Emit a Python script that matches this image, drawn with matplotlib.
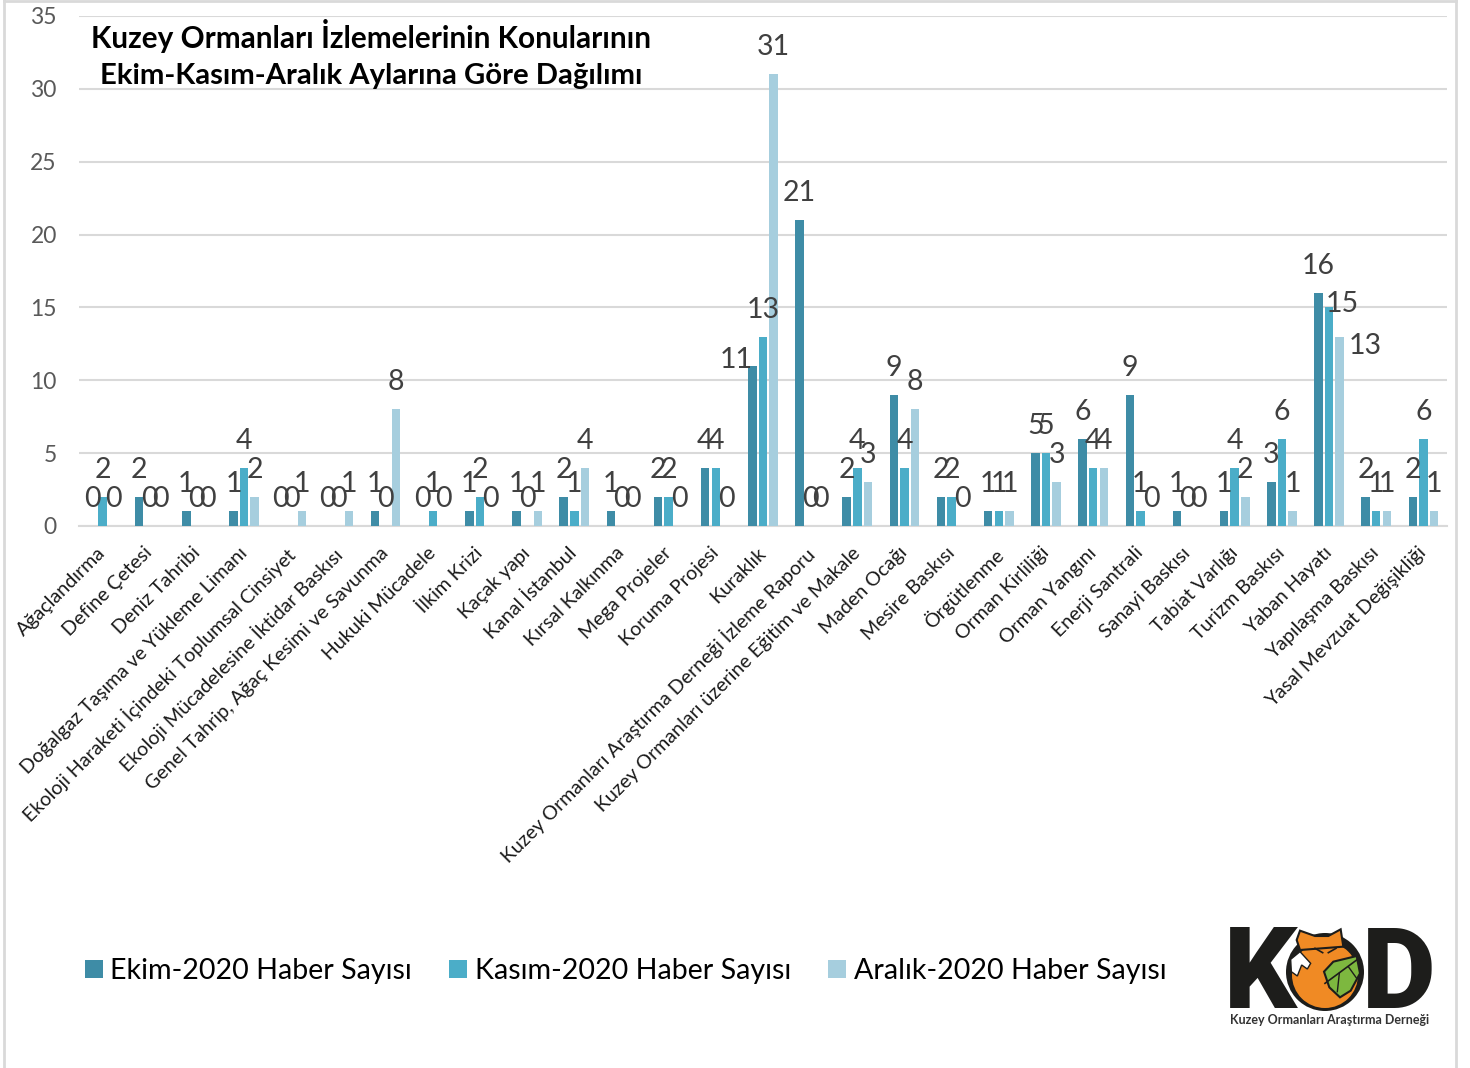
import matplotlib
matplotlib.use("Agg")
import matplotlib.pyplot as plt
import numpy as np
from matplotlib.patches import Polygon, Circle
from matplotlib.lines import Line2D
from matplotlib.transforms import ScaledTranslation

plt.rcParams['font.family'] = ['Lato', 'DejaVu Sans']

categories = ["Ağaçlandırma", "Define Çetesi", "Deniz Tahribi", "Doğalgaz Taşıma ve Yükleme Limanı",
              "Ekoloji Haraketi İçindeki Toplumsal Cinsiyet", "Ekoloji Mücadelesine İktidar Baskısı",
              "Genel Tahrip, Ağaç Kesimi ve Savunma", "Hukuki Mücadele", "İlkim Krizi", "Kaçak yapı",
              "Kanal İstanbul", "Kırsal Kalkınma", "Mega Projeler", "Koruma Projesi", "Kuraklık",
              "Kuzey Ormanları Araştırma Derneği İzleme Raporu", "Kuzey Ormanları üzerine Eğitim ve Makale",
              "Maden Ocağı", "Mesire Baskısı", "Örgütlenme", "Orman Kirliliği", "Orman Yangını",
              "Enerji Santrali", "Sanayi Baskısı", "Tabiat Varlığı", "Turizm Baskısı", "Yaban Hayatı",
              "Yapılaşma Baskısı", "Yasal Mevzuat Değişikliği"]
ekim =   [0, 2, 1, 1, 0, 0, 1, 0, 1, 1, 2, 1, 2, 4, 11, 21, 2, 9, 2, 1, 5, 6, 9, 1, 1, 3, 16, 2, 2]
kasim =  [2, 0, 0, 4, 0, 0, 0, 1, 2, 0, 1, 0, 2, 4, 13, 0, 4, 4, 2, 1, 5, 4, 1, 0, 4, 6, 15, 1, 6]
aralik = [0, 0, 0, 2, 1, 1, 8, 0, 0, 1, 4, 0, 0, 0, 31, 0, 3, 8, 0, 1, 3, 4, 0, 0, 2, 1, 13, 1, 1]
series_names = ["Ekim-2020 Haber Sayısı", "Kasım-2020 Haber Sayısı", "Aralık-2020 Haber Sayısı"]
colors = ["#3E8CA6", "#4BADC8", "#A6CEDE"]
title_lines = ["Kuzey Ormanları İzlemelerinin Konularının", "Ekim-Kasım-Aralık Aylarına Göre Dağılımı"]

W, H = 1470, 1068
PT = 0.72  # points per pixel at dpi 100
fig = plt.figure(figsize=(W / 100, H / 100), dpi=100)
ax = fig.add_axes([79 / W, 1 - 526 / H, (1447 - 79) / W, (526 - 16) / H])

# labels the reference moved by hand: (series, category) -> pixel offset from the bar top
moved_labels = {(0, 14): (-16, 6), (1, 26): (13, 3), (2, 26): (26, -9)}

x = np.arange(len(categories))
width, step = 0.18, 0.225
bar_sets = []
for i, vals in enumerate([ekim, kasim, aralik]):
    bars = ax.bar(x + (i - 1) * step, vals, width, color=colors[i], label=series_names[i], zorder=3)
    bar_sets.append(bars)
    for j, (xi, v) in enumerate(zip(x + (i - 1) * step, vals)):
        dx, dy = moved_labels.get((i, j), (0, 27))
        ax.annotate(str(v), (xi, v), xytext=(dx * PT, dy * PT), textcoords='offset points', ha='center',
                    va='center', fontsize=20.5, color='#404040', zorder=5)

ax.set_xlim(-0.5, len(categories) - 0.5)
ax.set_ylim(0, 35)
ax.set_yticks(range(0, 36, 5))
ax.tick_params(axis='y', length=0, labelsize=16.5, labelcolor='#595959', pad=16)
ax.tick_params(axis='x', length=0, pad=13)
ax.set_xticks(x)
ax.set_xticklabels(categories, rotation=45, ha='right', rotation_mode='anchor', fontsize=14.1, color='#1a1a1a')
shift = ScaledTranslation(-6 / 100, 0, fig.dpi_scale_trans)
for lab in ax.get_xticklabels():
    lab.set_transform(lab.get_transform() + shift)
ax.grid(axis='y', color='#D9D9D9', lw=1.5, zorder=0)
ax.set_axisbelow(True)
for s in ['top', 'right', 'left']:
    ax.spines[s].set_visible(False)
ax.spines['bottom'].set_color('#D9D9D9')
ax.spines['bottom'].set_linewidth(1.5)

fig.text(371 / W, 1 - 36 / H, title_lines[0], ha='center', va='center', fontsize=21.4, fontweight='bold', color='black')
fig.text(371 / W, 1 - 76 / H, title_lines[1], ha='center', va='center', fontsize=21.1, fontweight='bold', color='black')

fig.legend(handles=bar_sets, labels=series_names, loc='center left', bbox_to_anchor=(85 / W, 1 - 971 / H),
           ncol=3, frameon=False, fontsize=20.6, handlelength=0.62, handleheight=0.62, handletextpad=0.27,
           columnspacing=1.3, borderpad=0, borderaxespad=0)

# overlay in pixel coordinates: page border and logo
ov = fig.add_axes([0, 0, 1, 1], zorder=10)
ov.set_xlim(0, W)
ov.set_ylim(H, 0)
ov.axis('off')
ov.patch.set_alpha(0)
ov.add_line(Line2D([4, 4], [0, H], color='#D9D9D9', lw=2))
ov.add_line(Line2D([1456, 1456], [0, H], color='#D9D9D9', lw=2))
ov.add_line(Line2D([4, 1456], [1, 1], color='#D9D9D9', lw=2))

def z(pts):
    return [(1200 + a / 3, 900 + b / 3) for a, b in pts]

ov.text(1224, 1008, "K", fontsize=82, fontweight='black', family='Roboto', color='#1d1d1b', ha='left', va='baseline')
ov.text(1362, 1008, "D", fontsize=82, fontweight='black', family='Roboto', color='#1d1d1b', ha='left', va='baseline')
ov.add_patch(Circle((1325, 972), 39, fc='#1d1d1b', ec='none', zorder=3))
ov.add_patch(Circle((1325, 975), 33, fc='#F08A24', ec='none', zorder=4))
ov.add_patch(Polygon(z([(300, 92), (345, 108), (385, 108), (422, 88), (430, 140), (300, 150), (290, 120)]),
                     fc='#F08A24', ec='#1d1d1b', lw=1.5, zorder=4))
ov.add_patch(Polygon(z([(272, 178), (300, 155), (332, 190), (322, 207), (305, 195), (292, 228), (274, 215)]),
                     fc='white', ec='#1d1d1b', lw=1, zorder=5))
ov.add_patch(Polygon(z([(372, 215), (400, 185), (470, 168), (480, 220), (452, 272), (420, 292), (388, 262)]),
                     fc='#7DB83F', ec='#1d1d1b', lw=1.5, zorder=5))
ov.add_line(Line2D(*zip(*z([(375, 250), (470, 180)])), color='#1d1d1b', lw=1.2, zorder=6))
ov.add_line(Line2D(*zip(*z([(418, 220), (412, 275)])), color='#1d1d1b', lw=1, zorder=6))
ov.add_line(Line2D(*zip(*z([(445, 200), (470, 235)])), color='#1d1d1b', lw=1, zorder=6))
ov.add_line(Line2D(*zip(*z([(345, 145), (368, 158)])), color='#1d1d1b', lw=1.2, zorder=6))
ov.add_line(Line2D(*zip(*z([(408, 145), (385, 158)])), color='#1d1d1b', lw=1.2, zorder=6))
ov.text(1330, 1020, "Kuzey Ormanları Araştırma Derneği", fontsize=9, fontweight='bold', color='#333333',
        ha='center', va='center')

fig.savefig('out.png', dpi=100, facecolor='white')
